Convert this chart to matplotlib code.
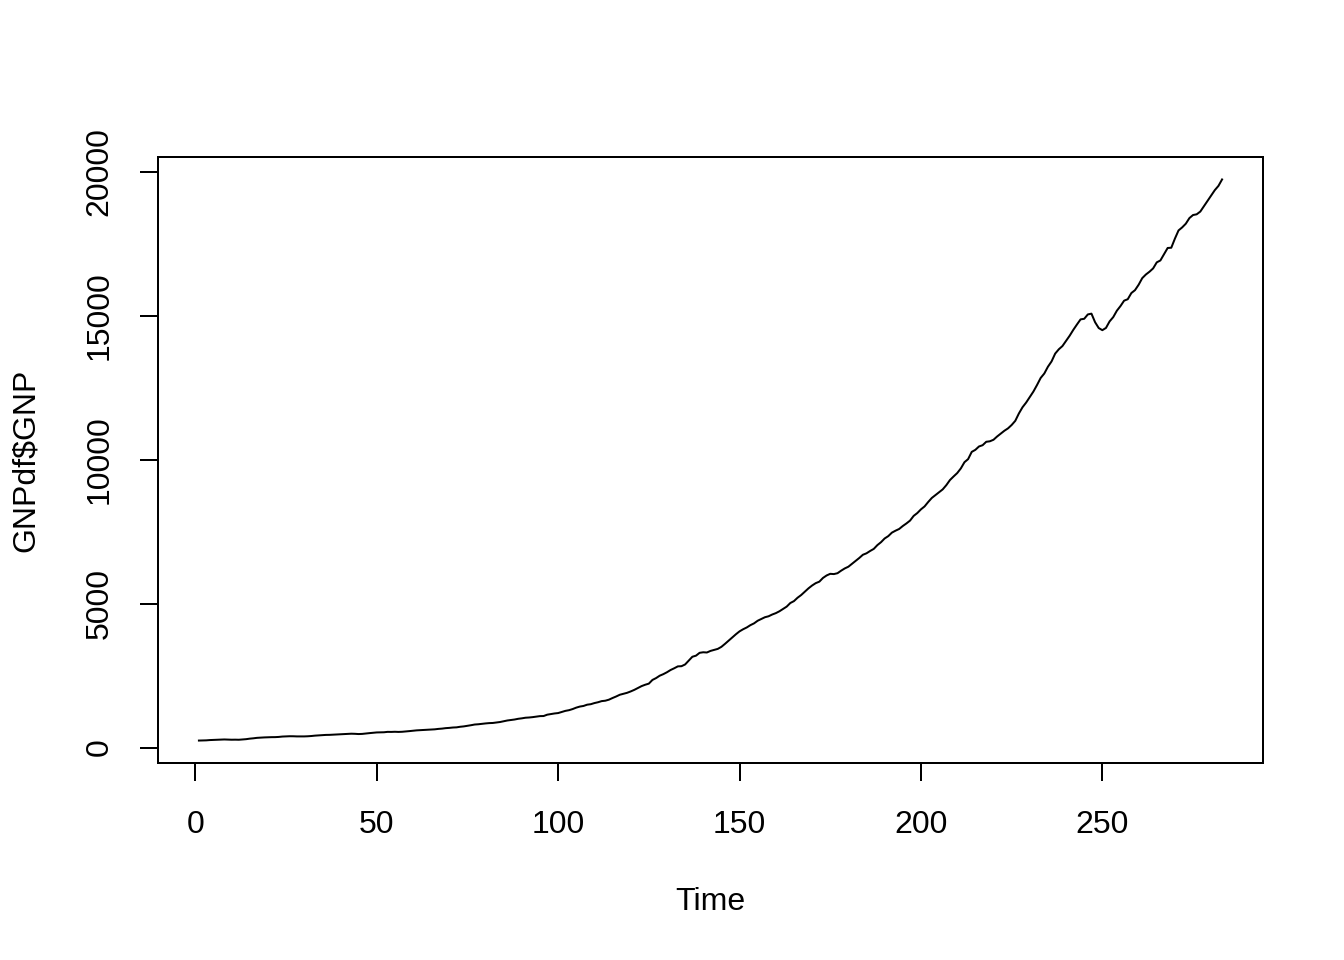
import numpy as np
import matplotlib.pyplot as plt

# quarterly GNP (index 1..283)
gnp = [
    244, 247, 251, 261, 267, 274, 281, 282, 277, 273, 275, 272,
    282, 292, 310, 322, 338, 346, 353, 358, 362, 363, 370, 383,
    390, 394, 393, 388, 387, 388, 393, 402, 415, 424, 433, 440,
    442, 449, 454, 463, 473, 475, 482, 478, 470, 475, 489, 502,
    513, 526, 528, 532, 546, 544, 549, 544, 549, 559, 572, 585,
    598, 605, 614, 617, 626, 634, 649, 659, 675, 684, 697, 703,
    723, 736, 755, 777, 801, 810, 825, 839, 850, 855, 871, 888,
    916, 941, 957, 975, 1000, 1016, 1037, 1045, 1058, 1075, 1093, 1096,
    1143, 1164, 1185, 1199, 1239, 1275, 1299, 1338, 1388, 1425, 1446, 1490,
    1507, 1546, 1575, 1614, 1628, 1664, 1722, 1775, 1835, 1867, 1902, 1950,
    2005, 2072, 2135, 2183, 2221, 2350, 2414, 2497, 2551, 2617, 2695, 2755,
    2821, 2827, 2887, 3019, 3155, 3193, 3292, 3311, 3303, 3358, 3392, 3428,
    3499, 3604, 3715, 3822, 3936, 4037, 4111, 4173, 4253, 4315, 4406, 4465,
    4528, 4561, 4622, 4670, 4735, 4818, 4897, 5022, 5088, 5206, 5300, 5418,
    5531, 5630, 5712, 5764, 5893, 5979, 6036, 6027, 6057, 6145, 6223, 6283,
    6385, 6491, 6586, 6698, 6749, 6830, 6902, 7034, 7135, 7264, 7346, 7467,
    7535, 7594, 7697, 7786, 7885, 8049, 8147, 8275, 8377, 8531, 8672, 8771,
    8869, 8969, 9117, 9294, 9418, 9536, 9698, 9914, 10020, 10272, 10343, 10460,
    10504, 10623, 10640, 10693, 10807, 10907, 11006, 11089, 11206, 11350, 11607, 11823,
    11986, 12177, 12368, 12596, 12840, 12994, 13230, 13414, 13686, 13836, 13948, 14128,
    14309, 14512, 14697, 14875, 14895, 15047, 15074, 14776, 14574, 14500, 14578, 14805,
    14953, 15176, 15338, 15525, 15575, 15790, 15890, 16078, 16308, 16434, 16531, 16646,
    16856, 16922, 17136, 17355, 17364, 17680, 17965, 18070, 18198, 18394, 18500, 18525,
    18620, 18805, 18987, 19178, 19365, 19512, 19736,
]
time = np.arange(1, len(gnp) + 1)

xticks = [0, 50, 100, 150, 200, 250]
yticks = [0, 5000, 10000, 15000, 20000]

plt.rcParams['font.family'] = ['Liberation Sans', 'DejaVu Sans']
plt.rcParams['font.size'] = 12

fig = plt.figure(figsize=(7, 5), dpi=192)
ax = fig.add_axes([158 / 1344, 1 - 763 / 960, 1105 / 1344, 606 / 960])

ax.plot(time, gnp, color='black', lw=0.75)

# R style 4% padding
xr = time.max() - time.min()
yr = max(gnp) - min(gnp)
ax.set_xlim(time.min() - 0.04 * xr, time.max() + 0.04 * xr)
ax.set_ylim(min(gnp) - 0.04 * yr, max(gnp) + 0.04 * yr)

ax.set_xticks(xticks)
ax.set_xticklabels([str(t) for t in xticks])
ax.set_yticks(yticks)
ax.set_yticklabels([str(t) for t in yticks], rotation=90, va='center')
ax.tick_params(direction='out', length=6.75, width=0.75, labelsize=12)
ax.tick_params(axis='x', pad=11)
ax.tick_params(axis='y', pad=9.5)
for s in ax.spines.values():
    s.set_linewidth(0.75)

ax.text(0.5, (763 - 902) / 606, 'Time', transform=ax.transAxes,
        ha='center', va='center', fontsize=12)
ax.text((26 - 158) / 1105, 0.5, 'GNPdf$GNP', transform=ax.transAxes,
        ha='center', va='center', rotation=90, fontsize=12)

fig.savefig('out.png', dpi=192)
